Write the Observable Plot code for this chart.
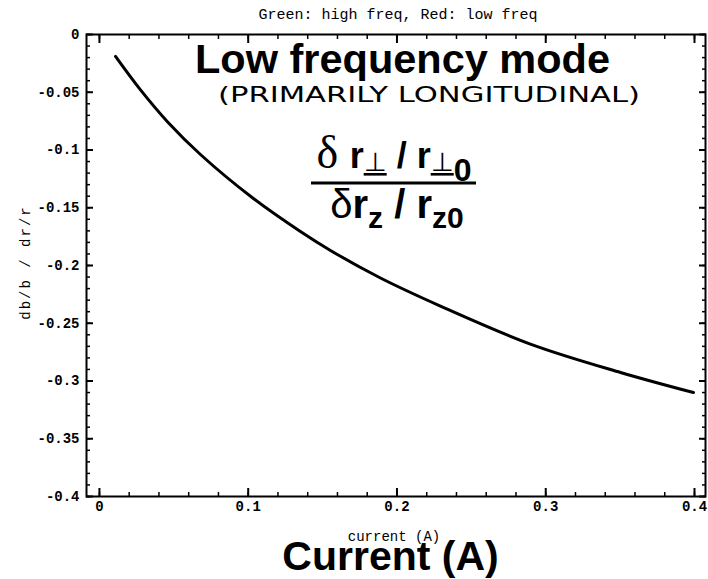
<!DOCTYPE html>
<html><head><meta charset="utf-8">
<script src="https://cdn.jsdelivr.net/npm/d3@7"></script>
<script src="https://cdn.jsdelivr.net/npm/@observablehq/plot@0.6"></script>
<style>
body{margin:0;background:#fff}
#chart{position:relative;width:708px;height:579px}
</style>
</head><body><div id="chart"></div>
<script>
// data
const currentA = [0.0108, 0.0276, 0.0457, 0.0679, 0.1035, 0.1351, 0.1553, 0.1889, 0.2292, 0.2897, 0.3503, 0.3993];
const ratio    = [-0.0190, -0.0480, -0.0755, -0.1039, -0.1420, -0.1706, -0.1870, -0.2108, -0.2351, -0.2680, -0.2926, -0.3100];

const xMajorTicks = [0, 0.1, 0.2, 0.3, 0.4];
const xTickLabels = ["0", "0.1", "0.2", "0.3", "0.4"];
const yMajorTicks = [0, -0.05, -0.1, -0.15, -0.2, -0.25, -0.3, -0.35, -0.4];
const yTickLabels = ["0", "-0.05", "-0.1", "-0.15", "-0.2", "-0.25", "-0.3", "-0.35", "-0.4"];
const xMinorTicks = d3.range(0, 21).map(i => i * 0.02);
const yMinorTicks = d3.range(0, 41).map(i => -i * 0.01);

const titleText = "Green: high freq, Red: low freq";
const yLabelText = "db/b / dr/r";
const xLabelSmall = "current (A)";
const xLabelBig = "Current (A)";
const headline = "Low frequency mode";
const handNote = "(PRIMARILY LONGITUDINAL)";

const pts = currentA.map((x, i) => ({x, y: ratio[i]}));
const mono = "Liberation Mono, Courier New, monospace";
const sans = "Liberation Sans, Arial, sans-serif";

const tickOnly = () => "";
const chart = Plot.plot({
  width: 708,
  height: 579,
  marginLeft: 86,
  marginRight: 3,
  marginTop: 34,
  marginBottom: 83,
  style: {fontFamily: mono, fontSize: "14px", background: "#fff", color: "#000"},
  x: {domain: [-0.0087, 0.4074]},
  y: {domain: [-0.4, 0]},
  marks: [
    Plot.frame({stroke: "#000", strokeWidth: 2}),
    // bottom
    Plot.axisX({ticks: xMajorTicks, anchor: "bottom", tickSize: 0, tickPadding: 5, label: null,
      tickFormat: d => xTickLabels[xMajorTicks.indexOf(d)], fontWeight: "bold", fontSize: 14}),
    Plot.axisX({ticks: xMajorTicks, anchor: "bottom", tickSize: -8, tickFormat: tickOnly, label: null, strokeWidth: 2}),
    Plot.axisX({ticks: xMinorTicks, anchor: "bottom", tickSize: -4, tickFormat: tickOnly, label: null, strokeWidth: 1.5}),
    // top
    Plot.axisX({ticks: xMajorTicks, anchor: "top", tickSize: -8, tickFormat: tickOnly, label: null, strokeWidth: 2}),
    Plot.axisX({ticks: xMinorTicks, anchor: "top", tickSize: -4, tickFormat: tickOnly, label: null, strokeWidth: 1.5}),
    // left
    Plot.axisY({ticks: yMajorTicks, anchor: "left", tickSize: 0, tickPadding: 7, label: null,
      tickFormat: d => yTickLabels[yMajorTicks.indexOf(d)], fontWeight: "bold", fontSize: 14}),
    Plot.axisY({ticks: yMajorTicks, anchor: "left", tickSize: -7, tickFormat: tickOnly, label: null, strokeWidth: 2}),
    Plot.axisY({ticks: yMinorTicks, anchor: "left", tickSize: -4, tickFormat: tickOnly, label: null, strokeWidth: 1.5}),
    // right
    Plot.axisY({ticks: yMajorTicks, anchor: "right", tickSize: -7, tickFormat: tickOnly, label: null, strokeWidth: 2}),
    Plot.axisY({ticks: yMinorTicks, anchor: "right", tickSize: -4, tickFormat: tickOnly, label: null, strokeWidth: 1.5}),
    // curve
    Plot.line(pts, {x: "x", y: "y", stroke: "#000", strokeWidth: 3, curve: "catmull-rom"}),
    // texts
    Plot.text([titleText], {frameAnchor: "top", lineAnchor: "middle", textAnchor: "middle", dy: -20, dx: 2, fontFamily: mono, fontSize: 15}),
    Plot.text([yLabelText], {frameAnchor: "left", lineAnchor: "middle", textAnchor: "middle", rotate: -90, dx: -61, dy: -3, fontFamily: mono, fontSize: 14}),
    Plot.text([xLabelSmall], {frameAnchor: "bottom", lineAnchor: "middle", textAnchor: "middle", dx: -2, dy: 40, fontFamily: mono, fontSize: 14}),
    Plot.text([xLabelBig], {frameAnchor: "bottom", lineAnchor: "middle", textAnchor: "middle", dx: -5.5, dy: 60, fontFamily: sans, fontWeight: "bold", fontSize: 41}),
    Plot.text([headline], {frameAnchor: "top", lineAnchor: "middle", textAnchor: "middle", dx: 6.5, dy: 25, fontFamily: sans, fontWeight: "bold", fontSize: 41.5})
  ]
});
document.getElementById("chart").appendChild(chart);

const svg = d3.select(chart);
// wide letter spacing of the rotated y label
svg.selectAll("text").filter(function() { return this.textContent === yLabelText; })
  .style("letter-spacing", "2px");

// handwritten note
svg.append("text")
  .attr("x", 218).attr("y", 102)
  .attr("text-anchor", "start")
  .attr("textLength", 422).attr("lengthAdjust", "spacingAndGlyphs")
  .attr("font-family", "DejaVu Sans, sans-serif").attr("font-size", 21)
  .attr("fill", "#000")
  .text(handNote);

// fraction annotation
const num = svg.append("text").attr("x", 394).attr("y", 168).attr("text-anchor", "middle")
  .attr("font-family", sans).attr("font-size", 36).attr("fill", "#000");
num.append("tspan").attr("font-family", "Liberation Serif, serif").attr("font-size", 46).text("δ ");
num.append("tspan").attr("font-weight", "bold").text("r");
num.append("tspan").attr("font-size", 26).attr("dy", 3).attr("text-decoration", "underline").text("⊥");
num.append("tspan").attr("dy", -3).attr("font-weight", "bold").text(" / ");
num.append("tspan").attr("font-weight", "bold").text("r");
num.append("tspan").attr("font-size", 26).attr("dy", 3).attr("text-decoration", "underline").text("⊥");
num.append("tspan").attr("font-size", 32).attr("font-weight", "bold").attr("dy", 10).text("0");

svg.append("line").attr("x1", 311).attr("x2", 476).attr("y1", 183).attr("y2", 183)
  .attr("stroke", "#000").attr("stroke-width", 3);

const den = svg.append("text").attr("x", 397).attr("y", 218).attr("text-anchor", "middle")
  .attr("font-family", sans).attr("font-size", 40).attr("font-weight", "bold").attr("fill", "#000");
den.append("tspan").attr("font-weight", "normal").text("δ");
den.append("tspan").text("r");
den.append("tspan").attr("font-size", 30).attr("dy", 10).text("z");
den.append("tspan").attr("dy", -10).text(" / ");
den.append("tspan").text("r");
den.append("tspan").attr("font-size", 30).attr("dy", 10).text("z0");
</script>
</body></html>
